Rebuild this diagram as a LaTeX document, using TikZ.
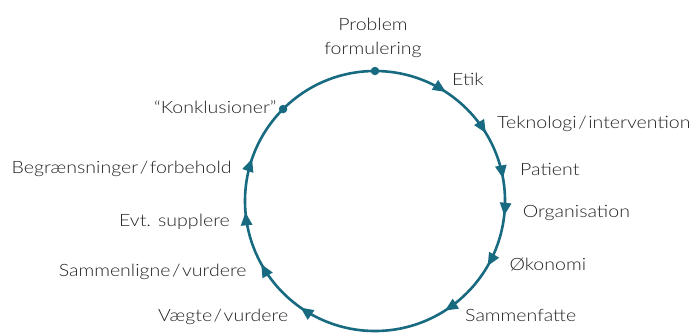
\documentclass[tikz,border=0pt]{standalone}
\usepackage{fontspec}
\setmainfont{Lato Light}[FakeStretch=1.15]
\usetikzlibrary{arrows.meta,decorations.markings}
\definecolor{cyclecol}{RGB}{24,106,128}
\definecolor{txtcol}{RGB}{35,35,35}
\tikzset{cycletip/.tip={Triangle[length=13pt,width=11pt]}}
% a slash with a little air on both sides
\newcommand\wideslash{\kern1.5pt/\kern1.5pt}
\begin{document}
\begin{tikzpicture}[x=1pt,y=1pt,
  lbl/.style={font=\fontsize{17}{24}\selectfont, text=txtcol, inner sep=0pt},
  dot/.style={circle, fill=cyclecol, inner sep=0pt, minimum size=8.5pt},
  cycle line/.style={draw=cyclecol, line width=2.6pt},
  flow/.style={postaction={decorate}, decoration={markings,
    mark=at position 0.0917 with {\arrow[cyclecol]{cycletip}},
    mark=at position 0.1625 with {\arrow[cyclecol]{cycletip}},
    mark=at position 0.2222 with {\arrow[cyclecol]{cycletip}},
    mark=at position 0.2681 with {\arrow[cyclecol]{cycletip}},
    mark=at position 0.3333 with {\arrow[cyclecol]{cycletip}},
    mark=at position 0.4097 with {\arrow[cyclecol]{cycletip}},
    mark=at position 0.5972 with {\arrow[cyclecol]{cycletip}},
    mark=at position 0.6694 with {\arrow[cyclecol]{cycletip}},
    mark=at position 0.7361 with {\arrow[cyclecol]{cycletip}},
    mark=at position 0.8028 with {\arrow[cyclecol]{cycletip}}}}]
\useasboundingbox (0,0) rectangle (700,333);
\coordinate (c) at (375,132);

% the cycle, running clockwise from the top
\draw[cycle line, flow] (c) ++(90:130) arc[start angle=90, end angle=-270, radius=130];

% start and end points
\path (c) ++(90:130) node[dot] (start) {};
\path (c) ++(135:130) node[dot] (finish) {};

% steps
\node[lbl, anchor=north, align=center] (problem) at (373,315) {Problem\\formulering};
\node[lbl, anchor=base west] (etik) at (452,248) {Etik};
\node[lbl, anchor=base west] (tek) at (497,204.7) {Teknologi\wideslash intervention};
\node[lbl, anchor=base west] (patient) at (520,158) {Patient};
\node[lbl, anchor=base west] (org) at (522.7,115.7) {Organisation};
\node[lbl, anchor=base west] (oko) at (509.3,63) {Økonomi};
\node[lbl, anchor=base west] (samf) at (465,11.3) {Sammenfatte};
\node[lbl, anchor=base east] (vaegt) at (288.3,11.3) {Vægte\wideslash vurdere};
\node[lbl, anchor=base east] (saml) at (246.7,56.3) {Sammenligne\wideslash vurdere};
\node[lbl, anchor=base east] (evt) at (230,106.3) {Evt. supplere};
\node[lbl, anchor=base east] (begr) at (231.7,159.7) {Begrænsninger\wideslash forbehold};
\node[lbl, anchor=base east] (konk) at (276.7,219.7) {“Konklusioner”};
\end{tikzpicture}
\end{document}
